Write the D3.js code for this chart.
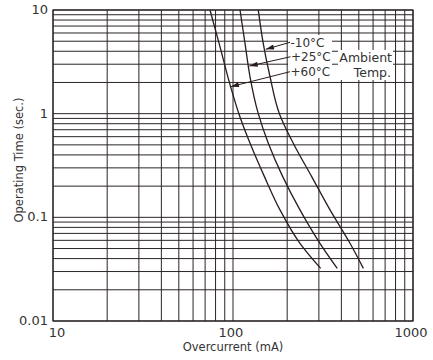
<!DOCTYPE html>
<html>
<head>
<meta charset="utf-8">
<script src="https://cdn.jsdelivr.net/npm/d3@7"></script>
<style>
body { margin: 0; background: #fff; }
svg { font-family: "DejaVu Sans", sans-serif; }
.grid line { stroke: #2b2424; stroke-width: 1; }
.curve { fill: none; stroke: #2a1c1c; stroke-width: 1.3; }
.lbl { fill: #333; }
</style>
</head>
<body>
<svg id="chart" width="433" height="360"></svg>
<script>
// overcurrent (mA) vs operating time (sec.)
var curve60 = [[74.5, 10], [83.7, 4.77], [97, 1.82], [107.8, 1.0], [124.4, 0.518],
    [149.5, 0.247], [182.4, 0.118], [235.5, 0.0562], [306.8, 0.0322]];
var curve25 = [[109.4, 10], [116.6, 4.77], [124.3, 2.27], [138.2, 1.0], [157.1, 0.518],
    [188.9, 0.247], [235.5, 0.118], [304, 0.0562], [379.5, 0.0322]];
var curveM10 = [[138.2, 10], [147.2, 4.77], [160.6, 2.27], [181, 1.0], [216.1, 0.518],
    [273.6, 0.247], [345.9, 0.118], [446.7, 0.0562], [529.9, 0.0322]];
var seriesNames = ["-10°C", "+25°C", "+60°C"];
var xTickLabels = ["10", "100", "1000"];
var yTickLabels = ["0.01", "0.1", "1", "10"];
// label anchor (data) and arrow tip on curve (data)
var arrowFrom = [[207.4, 4.88], [208.5, 3.54], [207.4, 2.54]];
var arrowTo = [[152, 4.18], [123.3, 2.88], [97, 1.82]];

var svg = d3.select("#chart");
var x = d3.scaleLog().domain([10, 1000]).range([53, 413]);
var y = d3.scaleLog().domain([0.01, 10]).range([321, 10]);

//grid, 1..9 in each decade
var grid = svg.append("g").attr("class", "grid");
grid.selectAll(".vx").data(x.ticks()).enter()
  .append("line")
    .attr("x1", d => x(d)).attr("x2", d => x(d))
    .attr("y1", y.range()[0]).attr("y2", y.range()[1]);
grid.selectAll(".hy").data(y.ticks()).enter()
  .append("line")
    .attr("y1", d => y(d)).attr("y2", d => y(d))
    .attr("x1", x.range()[0]).attr("x2", x.range()[1]);
svg.append("rect")
    .attr("x", x.range()[0]).attr("y", y.range()[1])
    .attr("width", x.range()[1] - x.range()[0])
    .attr("height", y.range()[0] - y.range()[1])
    .attr("fill", "none").attr("stroke", "#2b2424").attr("stroke-width", 1.2);

//white boxes behind the legend text
svg.append("rect").attr("x", 288).attr("y", 35).attr("width", 44).attr("height", 43).attr("fill", "#fff");
svg.append("rect").attr("x", 338).attr("y", 50).attr("width", 55).attr("height", 30).attr("fill", "#fff");

var line = d3.line()
    .x(d => x(d[0]))
    .y(d => y(d[1]))
    .curve(d3.curveMonotoneY);
[curveM10, curve25, curve60].forEach(function(c) {
    svg.append("path").attr("class", "curve").attr("d", line(c));
});

//arrows
svg.append("defs").append("marker")
    .attr("id", "arr").attr("viewBox", "0 0 10 6")
    .attr("refX", 10).attr("refY", 3)
    .attr("markerWidth", 10).attr("markerHeight", 5)
    .attr("markerUnits", "userSpaceOnUse")
    .attr("orient", "auto")
  .append("path").attr("d", "M0,0L10,3L0,6Z").attr("fill", "#2a1c1c");
arrowFrom.forEach(function(f, i) {
    svg.append("line")
        .attr("x1", x(f[0])).attr("y1", y(f[1]))
        .attr("x2", x(arrowTo[i][0])).attr("y2", y(arrowTo[i][1]))
        .attr("stroke", "#2a1c1c").attr("stroke-width", 1)
        .attr("marker-end", "url(#arr)");
});
svg.selectAll(".sname").data(seriesNames).enter()
  .append("text")
    .attr("class", "lbl")
    .attr("x", (d, i) => x(arrowFrom[i][0]) + 0.5)
    .attr("y", (d, i) => y(arrowFrom[i][1]) + 4.5)
    .attr("font-size", 12)
    .text(d => d);
svg.append("text").attr("class", "lbl").attr("x", 392).attr("y", 62)
    .attr("text-anchor", "end").attr("font-size", 12.5).text("Ambient");
svg.append("text").attr("class", "lbl").attr("x", 391).attr("y", 77)
    .attr("text-anchor", "end").attr("font-size", 12.5).text("Temp.");

//tick labels
svg.selectAll(".xt").data(xTickLabels).enter()
  .append("text")
    .attr("class", "lbl")
    .attr("x", (d, i) => x(+d) + (i === 0 ? 4 : -2))
    .attr("y", 337)
    .attr("text-anchor", "middle")
    .attr("font-size", 13)
    .text(d => d);
svg.selectAll(".yt").data(yTickLabels).enter()
  .append("text")
    .attr("class", "lbl")
    .attr("x", 48)
    .attr("y", d => y(+d) + 4)
    .attr("text-anchor", "end")
    .attr("font-size", 13)
    .text(d => d);

svg.append("text").attr("class", "lbl")
    .attr("x", 233).attr("y", 351)
    .attr("text-anchor", "middle").attr("font-size", 11.5)
    .text("Overcurrent (mA)");
svg.append("text").attr("class", "lbl")
    .attr("transform", "translate(23,160) rotate(-90)")
    .attr("text-anchor", "middle").attr("font-size", 11.5)
    .text("Operating Time (sec.)");
</script>
</body>
</html>
